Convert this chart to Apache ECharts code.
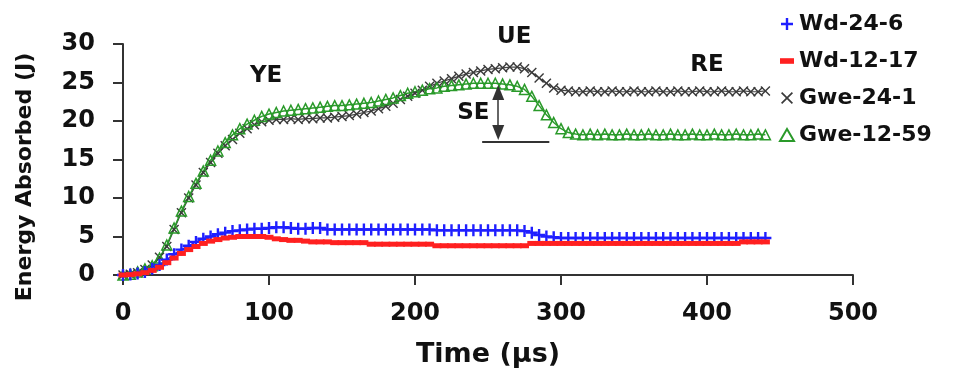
<!DOCTYPE html>
<html>
<head>
<meta charset="utf-8">
<script src="https://cdn.jsdelivr.net/npm/echarts@6/dist/echarts.min.js"></script>
<style>
html,body{margin:0;padding:0;background:#fff;}
#chart{width:963px;height:374px;}
</style>
</head>
<body>
<div id="chart"></div>
<script>
// ---- data (time in µs, energy in J) ----
var time = [0,5,10,15,20,25,30,35,40,45,50,55,60,65,70,75,80,85,90,95,
  100,105,110,115,120,125,130,135,140,145,150,155,160,165,170,175,180,185,190,195,
  200,205,210,215,220,225,230,235,240,245,250,255,260,265,270,275,280,285,290,295,
  300,305,310,315,320,325,330,335,340,345,350,355,360,365,370,375,380,385,390,395,
  400,405,410,415,420,425,430,435,440];

var wd24_6 = [0,0.05,0.2,0.4,0.8,1.3,2.0,2.7,3.3,3.8,4.3,4.7,5.0,5.3,5.5,5.7,5.8,5.9,6.0,6.0,
  6.1,6.2,6.2,6.1,6.0,6.0,6.1,6.1,5.9,5.9,5.9,5.9,5.9,5.9,5.9,5.9,5.9,5.9,5.9,5.9,
  5.9,5.9,5.9,5.8,5.8,5.8,5.8,5.8,5.8,5.8,5.8,5.8,5.8,5.8,5.8,5.7,5.5,5.2,5.0,4.9,
  4.8,4.8,4.8,4.8,4.8,4.8,4.8,4.8,4.8,4.8,4.8,4.8,4.8,4.8,4.8,4.8,4.8,4.8,4.8,4.8,
  4.8,4.8,4.8,4.8,4.8,4.8,4.8,4.8,4.8];

var wd12_17 = [0,0.05,0.15,0.3,0.6,1.0,1.6,2.2,2.8,3.3,3.7,4.1,4.4,4.6,4.8,4.9,5.0,5.0,5.0,5.0,
  4.9,4.7,4.6,4.5,4.5,4.4,4.3,4.3,4.3,4.2,4.2,4.2,4.2,4.2,4.0,4.0,4.0,4.0,4.0,4.0,
  4.0,4.0,4.0,3.8,3.8,3.8,3.8,3.8,3.8,3.8,3.8,3.8,3.8,3.8,3.8,3.8,4.1,4.1,4.1,4.1,
  4.1,4.1,4.1,4.1,4.1,4.1,4.1,4.1,4.1,4.1,4.1,4.1,4.1,4.1,4.1,4.1,4.1,4.1,4.1,4.1,
  4.1,4.1,4.1,4.1,4.1,4.3,4.3,4.3,4.3];

var gwe24_1 = [0,0.1,0.3,0.7,1.3,2.3,3.7,5.9,8.1,10.0,11.7,13.3,14.6,15.8,16.8,17.6,18.4,19.0,19.5,19.9,
  20.1,20.2,20.2,20.3,20.2,20.3,20.3,20.4,20.4,20.5,20.6,20.7,20.9,21.1,21.3,21.6,21.9,22.3,22.8,23.2,
  23.6,24.0,24.5,24.9,25.2,25.5,25.8,26.1,26.3,26.5,26.7,26.8,26.9,27.0,27.0,26.8,26.3,25.6,24.9,24.3,
  24.0,23.9,23.8,23.8,23.9,23.8,23.8,23.9,23.8,23.8,23.9,23.8,23.8,23.9,23.8,23.8,23.9,23.8,23.8,23.9,
  23.8,23.8,23.9,23.8,23.8,23.9,23.8,23.8,23.9];

var gwe12_59 = [0,0.1,0.4,0.8,1.2,2.2,3.9,6.1,8.3,10.2,11.9,13.5,14.9,16.1,17.2,18.2,19.0,19.6,20.1,20.6,
  20.9,21.1,21.3,21.4,21.5,21.6,21.7,21.8,21.9,22.0,22.0,22.1,22.2,22.3,22.4,22.6,22.8,23.0,23.3,23.6,
  23.8,24.0,24.2,24.3,24.5,24.6,24.7,24.8,24.9,24.9,24.9,24.9,24.8,24.7,24.5,24.1,23.2,22.0,20.8,19.8,
  19.0,18.5,18.3,18.2,18.3,18.2,18.3,18.2,18.2,18.3,18.2,18.2,18.3,18.2,18.2,18.3,18.2,18.2,18.3,18.2,
  18.2,18.3,18.2,18.2,18.3,18.2,18.2,18.3,18.2];

var seriesNames = ['Wd-24-6','Wd-12-17','Gwe-24-1','Gwe-12-59'];
var xTicks = [0,100,200,300,400,500];
var yTicks = [0,5,10,15,20,25,30];

// annotation labels (data coordinates)
var annoText = ['YE','UE','RE','SE'];
var annoX = [98, 268, 400, 240];
var annoY = [25.8, 30, 27.3, 21.0];

function pairs(vals){ return time.map(function(t,i){ return [t, vals[i]]; }); }

var FONT = 'DejaVu Sans';
var plusPath = 'path://M4,0H6V4H10V6H6V10H4V6H0V4H4Z';
var crossPath = 'path://M1,0L5,4L9,0L10,1L6,5L10,9L9,10L5,6L1,10L0,9L4,5L0,1Z';
var minusPath = 'path://M0,0H10V4H0Z';

var chart = echarts.init(document.getElementById('chart'), null, {renderer:'canvas'});

var option = {
  animation: false,
  backgroundColor: '#ffffff',
  grid: {left: 123, right: 110, top: 44, bottom: 99, containLabel: false},
  legend: {
    orient: 'vertical',
    left: 774,
    top: 8,
    itemWidth: 14,
    itemHeight: 12,
    itemGap: 15,
    selectedMode: false,
    textStyle: {fontFamily: FONT, fontWeight: 'bold', fontSize: 22, color: '#111'},
    data: [
      {name: seriesNames[0], icon: plusPath, itemStyle: {color: '#1f1fff'}},
      {name: seriesNames[1], icon: minusPath, itemStyle: {color: '#ff2020'}},
      {name: seriesNames[2], icon: crossPath, itemStyle: {color: '#3a3a3a'}},
      {name: seriesNames[3], icon: 'triangle', itemStyle: {color: 'rgba(0,0,0,0)', borderColor: '#2a9a2a', borderWidth: 2}}
    ]
  },
  graphic: [{
    type: 'text',
    x: 25, y: 177,
    rotation: Math.PI / 2,
    style: {
      text: 'Energy Absorbed (J)',
      fill: '#111',
      font: 'bold 22px "DejaVu Sans"',
      align: 'center',
      verticalAlign: 'middle'
    }
  }],
  xAxis: {
    type: 'value',
    min: 0, max: 500, interval: 100,
    name: 'Time (µs)',
    nameLocation: 'middle',
    nameGap: 66,
    nameTextStyle: {fontFamily: FONT, fontWeight: 'bold', fontSize: 27, color: '#111'},
    axisLine: {show: true, lineStyle: {color: '#333', width: 2}},
    axisTick: {show: true, inside: false, length: 10, lineStyle: {color: '#333', width: 2}},
    axisLabel: {margin: 27, fontFamily: FONT, fontWeight: 'bold', fontSize: 24, color: '#111',
      formatter: function(v){ return xTicks.indexOf(v) >= 0 ? String(v) : ''; }},
    splitLine: {show: false}
  },
  yAxis: {
    type: 'value',
    min: 0, max: 30, interval: 5,
    axisLine: {show: true, lineStyle: {color: '#333', width: 2}},
    axisTick: {show: true, inside: false, length: 10, lineStyle: {color: '#333', width: 2}},
    axisLabel: {margin: 28, fontFamily: FONT, fontWeight: 'bold', fontSize: 24, color: '#111',
      formatter: function(v){ return yTicks.indexOf(v) >= 0 ? String(v) : ''; }},
    splitLine: {show: false}
  },
  series: [
    {
      name: seriesNames[0], type: 'line', data: pairs(wd24_6),
      symbol: plusPath, symbolSize: 12, showAllSymbol: true,
      itemStyle: {color: '#1f1fff'},
      lineStyle: {color: '#1f1fff', width: 1.5},
      z: 4
    },
    {
      name: seriesNames[1], type: 'line', data: pairs(wd12_17),
      symbol: 'rect', symbolSize: [9, 5], showAllSymbol: true,
      itemStyle: {color: '#ff2020'},
      lineStyle: {color: '#ff2020', width: 1.5},
      z: 5
    },
    {
      name: seriesNames[2], type: 'line', data: pairs(gwe24_1),
      symbol: crossPath, symbolSize: 10, showAllSymbol: true,
      itemStyle: {color: '#3a3a3a'},
      lineStyle: {color: '#444', width: 1.2},
      z: 3,
      markPoint: {
        silent: true,
        symbol: 'circle', symbolSize: 1,
        itemStyle: {color: 'rgba(0,0,0,0)'},
        label: {show: true, position: 'inside', formatter: '{b}', fontFamily: FONT, fontWeight: 'bold', fontSize: 23, color: '#111'},
        data: annoText.map(function(t, i){
          var d = {name: t, coord: [annoX[i], annoY[i]]};
          if (t === 'UE') { d.label = {offset: [0, -7]}; }
          return d;
        })
      }
    },
    {
      name: seriesNames[3], type: 'line', data: pairs(gwe12_59),
      symbol: 'triangle', symbolSize: 10, showAllSymbol: true,
      itemStyle: {color: 'rgba(0,0,0,0)', borderColor: '#2a9a2a', borderWidth: 1.5},
      lineStyle: {color: '#2a9a2a', width: 1.5},
      z: 3,
      markLine: {
        silent: true,
        label: {show: false},
        lineStyle: {color: '#333', type: 'solid', width: 1.5},
        data: [
          [{coord: [257, 23.7], symbol: 'triangle', symbolSize: [12, 15]},
           {coord: [257, 18.5], symbol: 'triangle', symbolSize: [12, 15]}],
          [{coord: [246, 17.3], symbol: 'none', lineStyle: {width: 2}},
           {coord: [292, 17.3], symbol: 'none'}]
        ]
      }
    }
  ]
};
chart.setOption(option);
</script>
</body>
</html>
